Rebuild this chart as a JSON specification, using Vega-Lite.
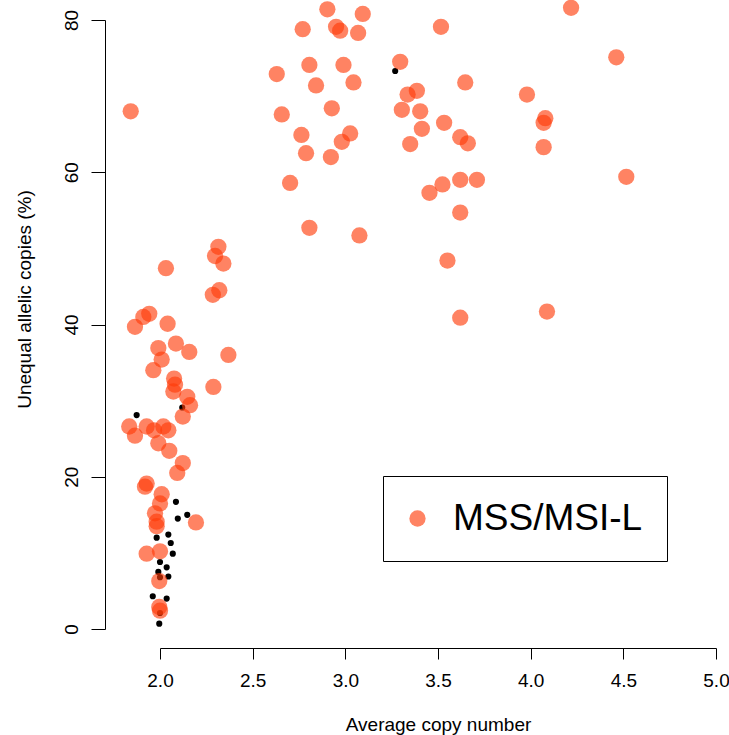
{
  "$schema": "https://vega.github.io/schema/vega-lite/v6.json",
  "width": 556,
  "height": 609,
  "autosize": {"type": "none"},
  "padding": {"left": 160, "top": 20, "right": 13, "bottom": 106},
  "background": "white",
  "config": {
    "font": "Liberation Sans",
    "view": {"stroke": null},
    "axis": {
      "grid": false,
      "domainColor": "black",
      "tickColor": "black",
      "labelColor": "black",
      "titleColor": "black",
      "labelFontSize": 19,
      "titleFontSize": 19,
      "titleFontWeight": "normal",
      "domainWidth": 1,
      "tickWidth": 1,
      "labelFont": "Liberation Sans",
      "titleFont": "Liberation Sans"
    }
  },
  "data": {
    "values": [
      {"x": 3.269, "y": 73.3, "group": "other"},
      {"x": 1.874, "y": 28.1, "group": "other"},
      {"x": 2.120, "y": 29.1, "group": "other"},
      {"x": 2.086, "y": 16.7, "group": "other"},
      {"x": 2.096, "y": 14.5, "group": "other"},
      {"x": 2.147, "y": 15.0, "group": "other"},
      {"x": 1.982, "y": 12.0, "group": "other"},
      {"x": 2.045, "y": 12.4, "group": "other"},
      {"x": 2.058, "y": 11.3, "group": "other"},
      {"x": 2.069, "y": 9.9, "group": "other"},
      {"x": 2.000, "y": 8.8, "group": "other"},
      {"x": 2.036, "y": 8.1, "group": "other"},
      {"x": 1.991, "y": 7.5, "group": "other"},
      {"x": 2.045, "y": 6.9, "group": "other"},
      {"x": 2.000, "y": 6.8, "group": "other"},
      {"x": 1.961, "y": 4.3, "group": "other"},
      {"x": 2.036, "y": 4.0, "group": "other"},
      {"x": 2.000, "y": 2.1, "group": "other"},
      {"x": 1.996, "y": 0.7, "group": "other"},
      {"x": 2.903, "y": 81.4, "group": "MSS/MSI-L"},
      {"x": 3.094, "y": 80.8, "group": "MSS/MSI-L"},
      {"x": 2.770, "y": 78.8, "group": "MSS/MSI-L"},
      {"x": 2.950, "y": 79.1, "group": "MSS/MSI-L"},
      {"x": 2.972, "y": 78.6, "group": "MSS/MSI-L"},
      {"x": 3.069, "y": 78.3, "group": "MSS/MSI-L"},
      {"x": 3.516, "y": 79.1, "group": "MSS/MSI-L"},
      {"x": 2.806, "y": 74.1, "group": "MSS/MSI-L"},
      {"x": 2.990, "y": 74.1, "group": "MSS/MSI-L"},
      {"x": 2.630, "y": 72.9, "group": "MSS/MSI-L"},
      {"x": 3.296, "y": 74.5, "group": "MSS/MSI-L"},
      {"x": 2.842, "y": 71.4, "group": "MSS/MSI-L"},
      {"x": 3.044, "y": 71.8, "group": "MSS/MSI-L"},
      {"x": 3.647, "y": 71.8, "group": "MSS/MSI-L"},
      {"x": 3.336, "y": 70.2, "group": "MSS/MSI-L"},
      {"x": 3.386, "y": 70.7, "group": "MSS/MSI-L"},
      {"x": 2.657, "y": 67.6, "group": "MSS/MSI-L"},
      {"x": 2.927, "y": 68.4, "group": "MSS/MSI-L"},
      {"x": 3.305, "y": 68.2, "group": "MSS/MSI-L"},
      {"x": 3.404, "y": 68.0, "group": "MSS/MSI-L"},
      {"x": 3.533, "y": 66.5, "group": "MSS/MSI-L"},
      {"x": 2.763, "y": 64.9, "group": "MSS/MSI-L"},
      {"x": 3.026, "y": 65.1, "group": "MSS/MSI-L"},
      {"x": 2.981, "y": 64.0, "group": "MSS/MSI-L"},
      {"x": 3.413, "y": 65.7, "group": "MSS/MSI-L"},
      {"x": 3.620, "y": 64.6, "group": "MSS/MSI-L"},
      {"x": 3.661, "y": 63.8, "group": "MSS/MSI-L"},
      {"x": 2.788, "y": 62.5, "group": "MSS/MSI-L"},
      {"x": 2.922, "y": 62.0, "group": "MSS/MSI-L"},
      {"x": 3.350, "y": 63.7, "group": "MSS/MSI-L"},
      {"x": 2.702, "y": 58.6, "group": "MSS/MSI-L"},
      {"x": 3.454, "y": 57.3, "group": "MSS/MSI-L"},
      {"x": 3.524, "y": 58.4, "group": "MSS/MSI-L"},
      {"x": 3.620, "y": 59.0, "group": "MSS/MSI-L"},
      {"x": 3.710, "y": 59.0, "group": "MSS/MSI-L"},
      {"x": 3.620, "y": 54.7, "group": "MSS/MSI-L"},
      {"x": 2.806, "y": 52.7, "group": "MSS/MSI-L"},
      {"x": 3.076, "y": 51.7, "group": "MSS/MSI-L"},
      {"x": 3.551, "y": 48.4, "group": "MSS/MSI-L"},
      {"x": 3.620, "y": 40.9, "group": "MSS/MSI-L"},
      {"x": 4.218, "y": 81.6, "group": "MSS/MSI-L"},
      {"x": 4.462, "y": 75.1, "group": "MSS/MSI-L"},
      {"x": 3.980, "y": 70.2, "group": "MSS/MSI-L"},
      {"x": 4.079, "y": 67.1, "group": "MSS/MSI-L"},
      {"x": 4.070, "y": 66.5, "group": "MSS/MSI-L"},
      {"x": 4.070, "y": 63.3, "group": "MSS/MSI-L"},
      {"x": 4.516, "y": 59.4, "group": "MSS/MSI-L"},
      {"x": 4.088, "y": 41.7, "group": "MSS/MSI-L"},
      {"x": 1.842, "y": 68.0, "group": "MSS/MSI-L"},
      {"x": 2.315, "y": 50.2, "group": "MSS/MSI-L"},
      {"x": 2.297, "y": 49.0, "group": "MSS/MSI-L"},
      {"x": 2.342, "y": 48.0, "group": "MSS/MSI-L"},
      {"x": 2.032, "y": 47.4, "group": "MSS/MSI-L"},
      {"x": 2.320, "y": 44.5, "group": "MSS/MSI-L"},
      {"x": 2.285, "y": 43.9, "group": "MSS/MSI-L"},
      {"x": 1.942, "y": 41.4, "group": "MSS/MSI-L"},
      {"x": 1.910, "y": 41.0, "group": "MSS/MSI-L"},
      {"x": 1.865, "y": 39.7, "group": "MSS/MSI-L"},
      {"x": 2.041, "y": 40.1, "group": "MSS/MSI-L"},
      {"x": 2.086, "y": 37.5, "group": "MSS/MSI-L"},
      {"x": 1.991, "y": 36.9, "group": "MSS/MSI-L"},
      {"x": 2.158, "y": 36.4, "group": "MSS/MSI-L"},
      {"x": 2.009, "y": 35.4, "group": "MSS/MSI-L"},
      {"x": 2.369, "y": 36.0, "group": "MSS/MSI-L"},
      {"x": 1.964, "y": 34.0, "group": "MSS/MSI-L"},
      {"x": 2.076, "y": 32.9, "group": "MSS/MSI-L"},
      {"x": 2.081, "y": 32.1, "group": "MSS/MSI-L"},
      {"x": 2.072, "y": 31.2, "group": "MSS/MSI-L"},
      {"x": 2.288, "y": 31.8, "group": "MSS/MSI-L"},
      {"x": 2.147, "y": 30.5, "group": "MSS/MSI-L"},
      {"x": 2.162, "y": 29.4, "group": "MSS/MSI-L"},
      {"x": 2.123, "y": 27.9, "group": "MSS/MSI-L"},
      {"x": 1.834, "y": 26.6, "group": "MSS/MSI-L"},
      {"x": 1.865, "y": 25.4, "group": "MSS/MSI-L"},
      {"x": 1.928, "y": 26.6, "group": "MSS/MSI-L"},
      {"x": 1.968, "y": 26.1, "group": "MSS/MSI-L"},
      {"x": 2.018, "y": 26.6, "group": "MSS/MSI-L"},
      {"x": 2.045, "y": 26.1, "group": "MSS/MSI-L"},
      {"x": 1.991, "y": 24.4, "group": "MSS/MSI-L"},
      {"x": 2.050, "y": 23.4, "group": "MSS/MSI-L"},
      {"x": 2.123, "y": 21.8, "group": "MSS/MSI-L"},
      {"x": 2.093, "y": 20.5, "group": "MSS/MSI-L"},
      {"x": 1.928, "y": 19.1, "group": "MSS/MSI-L"},
      {"x": 1.919, "y": 18.7, "group": "MSS/MSI-L"},
      {"x": 2.009, "y": 17.7, "group": "MSS/MSI-L"},
      {"x": 2.000, "y": 16.5, "group": "MSS/MSI-L"},
      {"x": 1.973, "y": 15.2, "group": "MSS/MSI-L"},
      {"x": 1.982, "y": 14.1, "group": "MSS/MSI-L"},
      {"x": 1.982, "y": 13.5, "group": "MSS/MSI-L"},
      {"x": 2.194, "y": 14.0, "group": "MSS/MSI-L"},
      {"x": 1.928, "y": 9.9, "group": "MSS/MSI-L"},
      {"x": 2.000, "y": 10.2, "group": "MSS/MSI-L"},
      {"x": 1.996, "y": 6.3, "group": "MSS/MSI-L"},
      {"x": 1.996, "y": 2.9, "group": "MSS/MSI-L"},
      {"x": 2.000, "y": 2.4, "group": "MSS/MSI-L"}
    ]
  },
  "encoding": {
    "x": {
      "field": "x",
      "type": "quantitative",
      "scale": {"domain": [2, 5], "nice": false, "zero": false},
      "axis": {
        "values": [2, 2.5, 3, 3.5, 4, 4.5, 5],
        "format": ".1f",
        "offset": 19,
        "tickSize": 11,
        "labelPadding": 12,
        "labelFlush": false,
        "title": "Average copy number",
        "titlePadding": 25
      }
    },
    "y": {
      "field": "y",
      "type": "quantitative",
      "scale": {"domain": [0, 80], "nice": false, "zero": false},
      "axis": {
        "values": [0, 20, 40, 60, 80],
        "offset": 55,
        "tickSize": 14,
        "labelAngle": -90,
        "labelAlign": "center",
        "labelBaseline": "bottom",
        "labelPadding": 10,
        "labelFlush": false,
        "title": "Unequal allelic copies (%)",
        "titleAngle": -90,
        "titleAlign": "center",
        "titleBaseline": "alphabetic",
        "titleX": -75,
        "titleY": 279
      }
    }
  },
  "layer": [
    {
      "transform": [{"filter": "datum.group === 'other'"}],
      "mark": {"type": "circle", "color": "black", "opacity": 1, "size": 38}
    },
    {
      "transform": [{"filter": "datum.group === 'MSS/MSI-L'"}],
      "mark": {"type": "circle", "opacity": 0.63, "size": 265},
      "encoding": {
        "color": {
          "field": "group",
          "type": "nominal",
          "scale": {"domain": ["MSS/MSI-L"], "range": ["#ff3a08"]},
          "legend": {
            "orient": "none",
            "legendX": 223,
            "legendY": 456,
            "title": null,
            "padding": 24,
            "strokeColor": "black",
            "fillColor": "white",
            "labelFontSize": 37,
            "labelFont": "Liberation Sans",
            "labelColor": "black",
            "labelLimit": 500,
            "labelOffset": 17,
            "symbolOffset": -8,
            "symbolSize": 265,
            "symbolType": "circle",
            "symbolOpacity": 0.63,
            "symbolStrokeWidth": 0
          }
        }
      }
    }
  ]
}
